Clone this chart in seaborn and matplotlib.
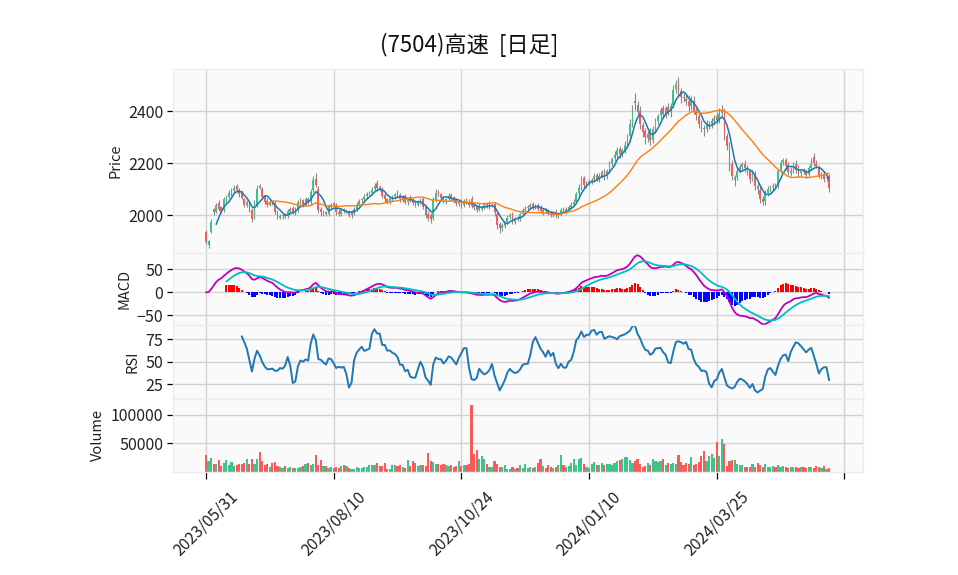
import numpy as np
import pandas as pd
import matplotlib
matplotlib.use("Agg")
import matplotlib.pyplot as plt
import seaborn as sns

title = "(7504)高速  [日足]"
tick_pos = [0, 50, 100, 150, 200, 250]
tick_labels = ["2023/05/31", "2023/08/10", "2023/10/24", "2024/01/10", "2024/03/25", ""]

close = [
    1895, 1900, 1975, 2010, 2040, 2025, 2015, 2060, 2070, 2085, 2095, 2105, 2095, 2080, 2065, 2040, 2050, 2020, 1985, 2045,
    2100, 2105, 2070, 2050, 2040, 2050, 2045, 2010, 1995, 1995, 2000, 1995, 2015, 2025, 2010, 2020, 2050, 2055, 2040, 2060,
    2050, 2090, 2135, 2115, 2020, 2010, 2010, 2005, 2035, 2040, 2040, 2010, 2005, 2020, 2015, 2015, 2000, 2010, 2025, 2040,
    2055, 2060, 2070, 2080, 2085, 2095, 2110, 2105, 2100, 2075, 2060, 2050, 2065, 2070, 2080, 2075, 2060, 2070, 2050, 2065,
    2055, 2045, 2040, 2050, 2060, 2030, 2000, 1990, 1985, 2060, 2085, 2085, 2065, 2055, 2060, 2075, 2065, 2055, 2045, 2050,
    2040, 2055, 2050, 2040, 2035, 2030, 2020, 2035, 2030, 2040, 2035, 2035, 2040, 2010, 1960, 1950, 1960, 1970, 1990, 2000,
    1975, 1985, 1985, 2005, 2020, 2025, 2030, 2040, 2030, 2035, 2025, 2015, 2020, 2015, 2005, 2000, 2010, 2000, 2005, 2020,
    2015, 2025, 2030, 2040, 2050, 2080, 2105, 2140, 2115, 2120, 2130, 2135, 2150, 2140, 2150, 2165, 2145, 2170, 2195, 2215,
    2230, 2250, 2235, 2250, 2270, 2300, 2350, 2400, 2430, 2395, 2350, 2320, 2300, 2310, 2290, 2330, 2360, 2380, 2405, 2390,
    2410, 2395, 2420, 2480, 2505, 2480, 2455, 2450, 2440, 2420, 2445, 2400, 2385, 2350, 2340, 2330, 2345, 2350, 2360, 2375,
    2365, 2390, 2400, 2310, 2265, 2190, 2150, 2145, 2170, 2185, 2195, 2180, 2165, 2140, 2160, 2110, 2100, 2060, 2050, 2085,
    2100, 2105, 2110, 2110, 2170, 2200, 2210, 2190, 2165, 2170, 2195, 2175, 2160, 2170, 2165, 2155, 2180, 2195, 2200, 2190,
    2150, 2155, 2140, 2145, 2105,
]
open_ = [
    1935, 1885, 1935, 2022, 2012, 2045, 2030, 2018, 2055, 2068, 2080, 2092, 2110, 2098, 2085, 2060, 2038, 2048, 2018, 1990,
    2040, 2110, 2100, 2072, 2055, 2040, 2052, 2045, 2012, 1990, 1995, 2002, 1995, 2012, 2028, 2008, 2020, 2050, 2058, 2040,
    2062, 2050, 2095, 2140, 2100, 2025, 2005, 2012, 2005, 2032, 2045, 2038, 2012, 2005, 2022, 2012, 2015, 2000, 2008, 2025,
    2040, 2058, 2060, 2072, 2082, 2085, 2100, 2125, 2108, 2098, 2078, 2062, 2050, 2062, 2072, 2085, 2078, 2058, 2072, 2050,
    2068, 2058, 2048, 2040, 2052, 2062, 2032, 2005, 2000, 1990, 2058, 2090, 2080, 2060, 2052, 2060, 2078, 2068, 2058, 2042,
    2052, 2040, 2058, 2052, 2060, 2040, 2032, 2020, 2025, 2030, 2042, 2032, 2035, 2042, 2005, 1965, 1950, 1958, 1972, 1992,
    2002, 1975, 1988, 1985, 2005, 2018, 2028, 2030, 2042, 2030, 2038, 2028, 2012, 2022, 2015, 2008, 2000, 2012, 1998, 2002,
    2022, 2012, 2025, 2032, 2040, 2050, 2085, 2110, 2142, 2115, 2120, 2130, 2138, 2155, 2140, 2150, 2168, 2150, 2172, 2195,
    2220, 2230, 2255, 2235, 2252, 2275, 2305, 2355, 2440, 2425, 2400, 2345, 2325, 2295, 2315, 2290, 2330, 2362, 2385, 2410,
    2390, 2415, 2395, 2425, 2485, 2510, 2478, 2455, 2445, 2438, 2420, 2440, 2398, 2380, 2350, 2335, 2330, 2348, 2352, 2360,
    2380, 2365, 2392, 2395, 2305, 2260, 2195, 2135, 2148, 2172, 2185, 2198, 2182, 2168, 2140, 2158, 2112, 2098, 2062, 2055,
    2085, 2102, 2108, 2112, 2112, 2172, 2205, 2212, 2192, 2162, 2172, 2198, 2178, 2160, 2172, 2165, 2158, 2182, 2225, 2198,
    2185, 2150, 2158, 2142, 2150,
]
upper_wick = [
    6, 4, 10, 5, 8, 12, 6, 9, 7, 10, 8, 12, 9, 6, 10, 5, 8, 7, 9, 12,
    15, 10, 8, 6, 9, 7, 5, 8, 6, 10, 5, 7, 9, 6, 8, 10, 6, 9, 5, 8,
    7, 12, 15, 20, 10, 6, 8, 5, 9, 7, 6, 8, 10, 7, 5, 9, 6, 8, 7, 10,
    8, 6, 10, 7, 9, 12, 15, 8, 6, 10, 7, 5, 8, 9, 6, 10, 8, 7, 9, 6,
    8, 6, 10, 7, 5, 9, 8, 12, 6, 10, 15, 8, 6, 9, 7, 10, 8, 6, 9, 7,
    10, 8, 6, 9, 12, 8, 7, 10, 6, 9, 8, 20, 7, 9, 6, 10, 8, 7, 9, 6,
    10, 7, 9, 8, 6, 10, 9, 7, 8, 6, 9, 10, 7, 6, 8, 9, 7, 10, 8, 6,
    8, 7, 10, 9, 12, 8, 15, 10, 8, 12, 9, 7, 10, 8, 12, 9, 10, 8, 12, 10,
    15, 10, 12, 8, 15, 10, 20, 25, 30, 15, 20, 12, 10, 15, 20, 12, 15, 10, 12, 15,
    10, 15, 12, 20, 15, 20, 12, 15, 18, 25, 15, 20, 12, 18, 15, 10, 20, 12, 15, 10,
    15, 20, 25, 15, 12, 20, 15, 10, 15, 12, 10, 15, 12, 10, 15, 12, 10, 15, 12, 10,
    12, 10, 15, 12, 8, 12, 10, 8, 12, 15, 10, 12, 15, 8, 10, 12, 10, 25, 15, 12,
    8, 10, 12, 8, 6,
]
lower_wick = [
    8, 10, 6, 9, 5, 8, 7, 6, 10, 5, 8, 6, 7, 9, 5, 8, 6, 10, 12, 7,
    8, 6, 9, 7, 10, 6, 8, 7, 9, 6, 10, 8, 7, 9, 6, 8, 10, 7, 9, 6,
    8, 10, 7, 6, 12, 15, 8, 10, 7, 9, 6, 8, 10, 7, 9, 6, 8, 12, 7, 9,
    6, 8, 7, 10, 6, 9, 8, 12, 7, 10, 8, 9, 6, 8, 10, 7, 9, 6, 8, 12,
    6, 8, 10, 7, 9, 6, 10, 12, 15, 8, 7, 10, 6, 9, 8, 6, 10, 7, 9, 8,
    12, 8, 6, 10, 7, 9, 8, 6, 10, 7, 8, 9, 6, 12, 15, 20, 10, 8, 6, 9,
    8, 10, 7, 9, 6, 8, 10, 7, 9, 6, 8, 7, 10, 9, 6, 8, 7, 10, 8, 6,
    9, 7, 8, 10, 6, 8, 10, 12, 15, 10, 8, 12, 10, 9, 12, 8, 10, 12, 10, 8,
    12, 10, 15, 10, 12, 15, 20, 15, 25, 15, 20, 18, 25, 15, 20, 12, 15, 10, 15, 12,
    15, 10, 18, 12, 15, 20, 25, 15, 18, 20, 15, 12, 18, 15, 20, 25, 12, 15, 18, 12,
    15, 12, 10, 20, 15, 20, 15, 25, 15, 12, 10, 15, 12, 15, 10, 15, 20, 15, 12, 15,
    10, 12, 15, 10, 8, 10, 12, 15, 10, 12, 10, 15, 12, 10, 8, 12, 10, 8, 12, 10,
    8, 10, 12, 10, 15,
]
volume = [
    29000, 19000, 24000, 14000, 14000, 20000, 10000, 15000, 20000, 11000, 17000, 10000, 12000, 13000, 13000, 15000, 22000, 14000, 22000, 13000,
    22000, 35000, 18000, 12000, 13000, 9000, 16000, 17000, 10000, 9000, 7000, 10000, 7000, 9000, 6000, 6000, 6000, 8000, 10000, 13000,
    16000, 11000, 14000, 29000, 12000, 20000, 10000, 10000, 6000, 9000, 6000, 9000, 7000, 10000, 11000, 10000, 7000, 4000, 4000, 9000,
    7000, 7000, 8000, 8000, 11000, 12000, 12000, 16000, 10000, 10000, 16000, 5000, 5000, 12000, 12000, 10000, 12000, 9000, 6000, 20000,
    10000, 19000, 15000, 10000, 11000, 12000, 10000, 33000, 19000, 17000, 13000, 13000, 11000, 13000, 11000, 10000, 12000, 9000, 10000, 18000,
    10000, 12000, 12000, 13000, 118000, 32000, 38000, 22000, 28000, 22000, 13000, 8000, 8000, 19000, 14000, 8000, 9000, 11000, 5000, 5000,
    9000, 5000, 6000, 12000, 6000, 14000, 6000, 8000, 6000, 9000, 16000, 22000, 10000, 6000, 12000, 9000, 7000, 9000, 11000, 30000,
    12000, 8000, 10000, 16000, 23000, 11000, 23000, 25000, 13000, 8000, 7000, 13000, 17000, 12000, 12000, 15000, 12000, 14000, 14000, 12000,
    15000, 19000, 20000, 23000, 26000, 26000, 20000, 16000, 18000, 23000, 14000, 9000, 10000, 15000, 12000, 22000, 19000, 17000, 19000, 23000,
    12000, 16000, 14000, 16000, 13000, 30000, 17000, 12000, 16000, 13000, 26000, 12000, 14000, 17000, 28000, 37000, 18000, 28000, 32000, 24000,
    52000, 28000, 58000, 49000, 10000, 18000, 21000, 20000, 14000, 12000, 12000, 8000, 9000, 9000, 13000, 9000, 15000, 11000, 8000, 13000,
    9000, 8000, 10000, 8000, 11000, 9000, 10000, 9000, 6000, 8000, 9000, 8000, 6000, 9000, 9000, 7000, 9000, 8000, 7000, 10000,
    8000, 6000, 10000, 5000, 6000,
]

up_color = "#3fc38a"
down_color = "#fa5a5a"

df = pd.DataFrame({"open": open_, "close": close, "volume": volume})
df["x"] = np.arange(len(df))
df["high"] = df[["open", "close"]].max(axis=1) + np.array(upper_wick)
df["low"] = df[["open", "close"]].min(axis=1) - np.array(lower_wick)
df["ma5"] = df["close"].rolling(5).mean()
df["ma25"] = df["close"].rolling(25).mean()
ema12 = df["close"].ewm(span=12, adjust=False).mean()
ema26 = df["close"].ewm(span=26, adjust=False).mean()
df["macd"] = ema12 - ema26
df["signal"] = df["macd"].ewm(span=9, adjust=False, min_periods=9).mean()
df["hist"] = df["macd"] - df["signal"]
delta = df["close"].diff()
gain = delta.clip(lower=0).rolling(14).mean()
loss = (-delta.clip(upper=0)).rolling(14).mean()
df["rsi"] = 100 - 100 / (1 + gain / loss)
colors = np.where(df["close"] >= df["open"], up_color, down_color)

sns.set_theme(style="whitegrid")
plt.rcParams["font.family"] = ["Noto Sans CJK JP", "DejaVu Sans"]
plt.rcParams["axes.unicode_minus"] = True

fig = plt.figure(figsize=(9.58, 5.75), dpi=100)
left, width = 0.1806, 0.7203
ax_p = fig.add_axes([left, 0.5605, width, 0.3195])
ax_m = fig.add_axes([left, 0.4348, width, 0.1257], sharex=ax_p)
ax_r = fig.add_axes([left, 0.3056, width, 0.1292], sharex=ax_p)
ax_v = fig.add_axes([left, 0.1797, width, 0.1259], sharex=ax_p)

# candles
ax_p.vlines(df["x"], df["low"], df["high"], color="#8a8a8a", linewidth=0.8, zorder=2)
body_bottom = df[["open", "close"]].min(axis=1)
body_height = (df["close"] - df["open"]).abs().clip(lower=1.5)
ax_p.bar(df["x"], body_height, bottom=body_bottom, width=0.65, color=colors, linewidth=0, zorder=3)
sns.lineplot(x=df["x"], y=df["ma5"], ax=ax_p, color="#1f77b4", linewidth=1.1, zorder=4)
sns.lineplot(x=df["x"], y=df["ma25"], ax=ax_p, color="#ff7f0e", linewidth=1.0, zorder=4)
ax_p.set_ylim(1855, 2562)
ax_p.set_yticks([2000, 2200, 2400])
ax_p.set_ylabel("Price")

# MACD
hist_colors = np.where(df["hist"] >= 0, "#ff0000", "#0000ff")
ax_m.bar(df["x"], df["hist"].fillna(0), width=0.8, color=hist_colors, linewidth=0, zorder=2)
sns.lineplot(x=df["x"], y=df["macd"], ax=ax_m, color="#bf00bf", linewidth=1.3, zorder=3)
sns.lineplot(x=df["x"], y=df["signal"], ax=ax_m, color="#00bfbf", linewidth=1.3, zorder=3)
ax_m.set_ylim(-71, 86)
ax_m.set_yticks([-50, 0, 50])
ax_m.set_ylabel("MACD")

# RSI
sns.lineplot(x=df["x"], y=df["rsi"], ax=ax_r, color="#1f77b4", linewidth=1.4)
ax_r.set_ylim(8.3, 90.9)
ax_r.set_yticks([25, 50, 75])
ax_r.set_ylabel("RSI")

# Volume
ax_v.bar(df["x"], df["volume"], width=0.85, color=colors, linewidth=0, zorder=2)
ax_v.set_ylim(0, 127700)
ax_v.set_yticks([50000, 100000])
ax_v.set_ylabel("Volume")

for ax in [ax_p, ax_m, ax_r, ax_v]:
    ax.set_facecolor("#fafafa")
    ax.grid(True, color="#d2d2d2", linewidth=1.0)
    ax.set_axisbelow(True)
    for sp in ax.spines.values():
        sp.set_color("#ececec")
        sp.set_linewidth(1.0)
    ax.set_xlabel("")
    ax.tick_params(axis="y", left=True, length=4, width=0.9, color="black",
                   labelsize=11.5, labelcolor="#222222", pad=3)
    ax.tick_params(axis="x", bottom=False, labelbottom=False)
    ax.yaxis.label.set_size(10.5)
    ax.yaxis.label.set_color("#222222")

ax_v.set_xlim(-12.9, 257.3)
ax_v.set_xticks(tick_pos)
ax_v.set_xticklabels(tick_labels, rotation=45, ha="center")
ax_v.tick_params(axis="x", bottom=True, labelbottom=True, length=5, width=0.9,
                 color="black", labelsize=11.5, labelcolor="#222222", pad=7)
ax_v.set_yticklabels(["50000", "100000"])

fig.text(0.49, 1 - 45 / 575, title, ha="center", va="center", fontsize=16, color="#111111")

fig.savefig("out.png", dpi=100)
